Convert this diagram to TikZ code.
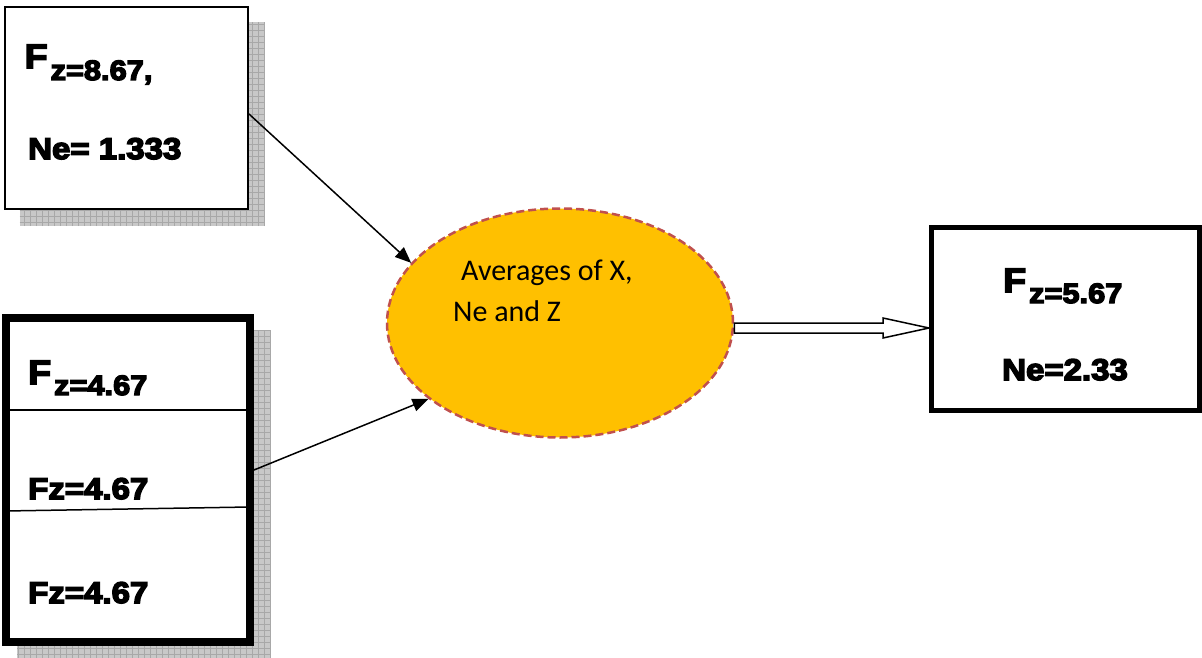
\documentclass[tikz,border=0pt]{standalone}
\usepackage{fontspec}
\usetikzlibrary{calc,arrows.meta,shapes.geometric,backgrounds}
\newfontfamily\boxfont[FakeStretch=1.1,FakeBold=5]{Liberation Sans Bold}
\newfontfamily\calfont{Carlito}
\definecolor{ellfill}{HTML}{FFC000}
\definecolor{elldash}{HTML}{C0504D}
\definecolor{shbase}{HTML}{C8C8C8}
\definecolor{shline}{HTML}{A8A8A8}
\begin{document}
\begin{tikzpicture}[x=1pt,y=-1pt,
  box/.style={draw=black, fill=white, rectangle, inner sep=0pt},
  boxtext/.style={anchor=base west, inner sep=0pt, font=\boxfont\fontsize{30}{30}\selectfont},
  ftext/.style={anchor=base west, inner sep=0pt, font=\boxfont\fontsize{34}{34}\selectfont},
  ctext/.style={anchor=base west, inner sep=0pt, font=\calfont\fontsize{30}{36}\selectfont},
  conn/.style={line width=1.5pt, -{Triangle[length=16pt,width=13pt]}},
  shadowfill/.style={fill=shbase},
  shadowgrid/.style={draw=shline, line width=0.6pt},
]
\useasboundingbox (0,0) rectangle (1202,658);

% top-left box
\node[box, line width=2pt, minimum width=243.5pt, minimum height=202pt] (tl) at (126.25,108) {};
\node[ftext] (t1) at (24.5,68) {F\hspace{3pt}\raisebox{-12pt}{\fontsize{28}{28}\selectfont z=8.67,}};
\node[boxtext] (t2) at (28,159) {Ne= 1.333};

% bottom-left box
\node[box, line width=8pt, minimum width=244.5pt, minimum height=324pt] (bl) at (127.75,480) {};
\draw[line width=1.5pt] (5,410) -- (250,410);
\draw[line width=1.5pt] (5,511) -- (250,507);
\node[ftext] (b1) at (28,384) {F\hspace{3pt}\raisebox{-11pt}{\fontsize{28}{28}\selectfont z=4.67}};
\node[boxtext] (b2) at (28,499) {Fz=4.67};
\node[boxtext] (b3) at (28,603) {Fz=4.67};

% right box
\node[box, line width=5pt, minimum width=268pt, minimum height=183pt] (rb) at (1065.5,319) {};
\node[ftext] (r1) at (1003,292) {F\hspace{3pt}\raisebox{-11pt}{\fontsize{28}{28}\selectfont z=5.67}};
\node[boxtext] (r2) at (1002,380) {Ne=2.33};

% ellipse
\node[ellipse, draw=elldash, fill=ellfill, line width=2.5pt, dash pattern=on 8pt off 4pt,
      minimum width=346pt, minimum height=229pt, inner sep=0pt] (ell) at (560,323) {};
\node[ctext] (e1) at (461,280) {Averages of X,};
\node[ctext] (e2) at (453,321) {Ne and Z};

% connectors
\draw[conn] ($(tl.east)+(0,6)$) -- (ell.158);
\draw[conn] ($(bl.east)+(0,-10)$) -- (ell.210);

\coordinate (hs) at ($(ell.east)+(0,5)$);
\coordinate (ht) at (rb.west |- hs);
\draw[line width=1.5pt, fill=white, line join=miter]
  ($(hs)+(0,-5)$) -- ($(ht)+(-46,-5)$) -- ($(ht)+(-46,-10)$) -- (ht)
  -- ($(ht)+(-46,10)$) -- ($(ht)+(-46,5)$) -- ($(hs)+(0,5)$) -- cycle;

% shadows
\begin{scope}[on background layer]
  \fill[shadowfill] ($(tl.south west)+(16,16)$) rectangle ($(tl.north east)+(16,16)$);
  \draw[shadowgrid, step=6pt] ($(tl.south west)+(16,16)$) grid ($(tl.north east)+(16,16)$);
  \fill[shadowfill] ($(bl.south west)+(15.5,16)$) rectangle ($(bl.north east)+(16,16)$);
  \draw[shadowgrid, step=6pt] ($(bl.south west)+(15.5,16)$) grid ($(bl.north east)+(16,16)$);
\end{scope}
\end{tikzpicture}
\end{document}
